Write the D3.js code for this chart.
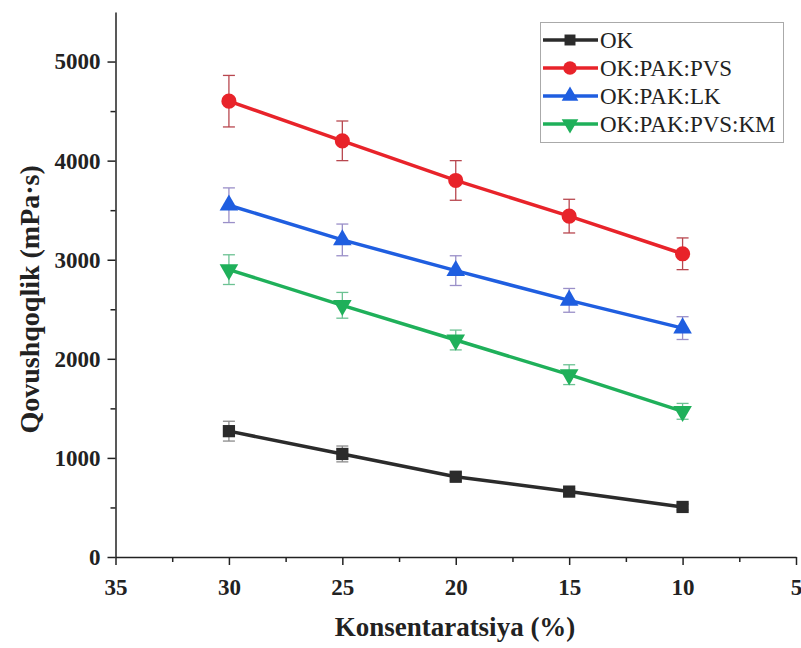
<!DOCTYPE html>
<html>
<head>
    <title>Qovushqoqlik</title>
    <script src="https://d3js.org/d3.v7.min.js"></script>
    <style>
        body { margin: 0; background: #fff; }
        text { font-family: "Liberation Serif", "Times New Roman", serif; }
    </style>
</head>
<body>
    <svg id="chart" width="801" height="648"></svg>

    <script>
        // data
        const concentrations = [30, 25, 20, 15, 10];
        const seriesNames = ["OK", "OK:PAK:PVS", "OK:PAK:LK", "OK:PAK:PVS:KM"];
        const okValues = [1270, 1040, 810, 660, 505];
        const okErrors = [100, 80, 40, 30, 30];
        const pvsValues = [4600, 4200, 3800, 3440, 3060];
        const pvsErrors = [260, 200, 200, 170, 160];
        const lkValues = [3550, 3200, 2890, 2590, 2310];
        const lkErrors = [175, 160, 150, 120, 115];
        const kmValues = [2900, 2540, 2190, 1840, 1470];
        const kmErrors = [150, 130, 100, 100, 80];
        const xTicks = [35, 30, 25, 20, 15, 10, 5];
        const yTicks = [0, 1000, 2000, 3000, 4000, 5000];

        const styles = [
            { color: "#2b2b2b", err: "#8a8a8a", symbol: d3.symbolSquare, size: 150, rot: 0 },
            { color: "#e8232a", err: "#b8474f", symbol: d3.symbolCircle, size: 180, rot: 0 },
            { color: "#1f5ee0", err: "#9a8fc8", symbol: d3.symbolTriangle, size: 150, rot: 0 },
            { color: "#1fb05a", err: "#6cc293", symbol: d3.symbolTriangle, size: 150, rot: 180 }
        ];

        const series = [
            { name: seriesNames[0], values: okValues, errors: okErrors },
            { name: seriesNames[1], values: pvsValues, errors: pvsErrors },
            { name: seriesNames[2], values: lkValues, errors: lkErrors },
            { name: seriesNames[3], values: kmValues, errors: kmErrors }
        ];

        const svg = d3.select("svg#chart");
        const x = d3.scaleLinear().domain([35, 5]).range([115.5, 796]);
        const y = d3.scaleLinear().domain([0, 5500]).range([557, 12]);

        // minor ticks
        const xMinor = d3.range(32.5, 5, -5);
        const yMinor = d3.range(500, 5500, 1000);

        svg.append("g")
            .attr("transform", "translate(0," + y(0) + ")")
            .call(d3.axisBottom(x).tickValues(xMinor).tickSize(5).tickSizeOuter(0).tickFormat(""))
            .call(g => g.select(".domain").remove())
            .selectAll("line").attr("stroke", "#222").attr("stroke-width", 1.5);

        svg.append("g")
            .attr("transform", "translate(" + x(35) + ",0)")
            .call(d3.axisLeft(y).tickValues(yMinor).tickSize(5).tickSizeOuter(0).tickFormat(""))
            .call(g => g.select(".domain").remove())
            .selectAll("line").attr("stroke", "#222").attr("stroke-width", 1.5);

        const xAxis = svg.append("g")
            .attr("transform", "translate(0," + y(0) + ")")
            .call(d3.axisBottom(x).tickValues(xTicks).tickSize(8).tickSizeOuter(0).tickPadding(14).tickFormat(d3.format("d")));

        const yAxis = svg.append("g")
            .attr("transform", "translate(" + x(35) + ",0)")
            .call(d3.axisLeft(y).tickValues(yTicks).tickSize(8).tickSizeOuter(0).tickPadding(7).tickFormat(d3.format("d")));

        [xAxis, yAxis].forEach(a => {
            a.select(".domain").attr("stroke", "#222").attr("stroke-width", 1.5);
            a.selectAll(".tick line").attr("stroke", "#222").attr("stroke-width", 1.5);
            a.selectAll(".tick text")
                .style("font-family", "'Liberation Serif', 'Times New Roman', serif")
                .style("font-size", "23px")
                .style("font-weight", "bold")
                .attr("fill", "#222");
        });

        // axis titles
        svg.append("text")
            .attr("x", 455)
            .attr("y", 636)
            .attr("text-anchor", "middle")
            .style("font-size", "27px")
            .style("font-weight", "bold")
            .attr("fill", "#222")
            .text("Konsentaratsiya (%)");

        svg.append("text")
            .attr("transform", "translate(39," + y(2600) + ") rotate(-90)")
            .attr("text-anchor", "middle")
            .style("font-size", "28px")
            .style("font-weight", "bold")
            .attr("fill", "#222")
            .text("Qovushqoqlik (mPa·s)");

        const line = d3.line()
            .x((d, i) => x(concentrations[i]))
            .y(d => y(d));

        // error bars
        series.forEach((s, k) => {
            const g = svg.append("g").attr("class", "errors");
            s.values.forEach((v, i) => {
                const cx = x(concentrations[i]);
                const top = y(v + s.errors[i]);
                const bot = y(v - s.errors[i]);
                g.append("line").attr("x1", cx).attr("x2", cx).attr("y1", top).attr("y2", bot);
                g.append("line").attr("x1", cx - 6).attr("x2", cx + 6).attr("y1", top).attr("y2", top);
                g.append("line").attr("x1", cx - 6).attr("x2", cx + 6).attr("y1", bot).attr("y2", bot);
            });
            g.selectAll("line").attr("stroke", styles[k].err).attr("stroke-width", 1.3);
        });

        // lines and markers
        series.forEach((s, k) => {
            svg.append("path")
                .datum(s.values)
                .attr("d", line)
                .attr("fill", "none")
                .attr("stroke", styles[k].color)
                .attr("stroke-width", 3.5);

            svg.selectAll(".m" + k)
                .data(s.values)
                .enter().append("path")
                .attr("class", "m" + k)
                .attr("d", d3.symbol().type(styles[k].symbol).size(styles[k].size))
                .attr("transform", (d, i) => "translate(" + x(concentrations[i]) + "," + y(d) + ") rotate(" + styles[k].rot + ")")
                .attr("fill", styles[k].color);
        });

        // legend
        const legend = svg.append("g");
        legend.append("rect")
            .attr("x", 540.5)
            .attr("y", 22.5)
            .attr("width", 243)
            .attr("height", 120)
            .attr("fill", "#fff")
            .attr("stroke", "#aaa")
            .attr("stroke-width", 1);

        const rows = legend.selectAll(".row")
            .data(series)
            .enter().append("g")
            .attr("class", "row")
            .attr("transform", (d, i) => "translate(0," + (40 + i * 28) + ")");

        rows.append("line")
            .attr("x1", 543).attr("x2", 598)
            .attr("stroke", (d, i) => styles[i].color)
            .attr("stroke-width", 3.5);

        rows.append("path")
            .attr("d", (d, i) => d3.symbol().type(styles[i].symbol).size(styles[i].size * 0.8)())
            .attr("transform", (d, i) => "translate(570,0) rotate(" + styles[i].rot + ")")
            .attr("fill", (d, i) => styles[i].color);

        rows.append("text")
            .attr("x", 600)
            .attr("y", 0)
            .attr("dy", "0.35em")
            .style("font-size", "23px")
            .attr("fill", "#222")
            .text(d => d.name);
    </script>
</body>
</html>
